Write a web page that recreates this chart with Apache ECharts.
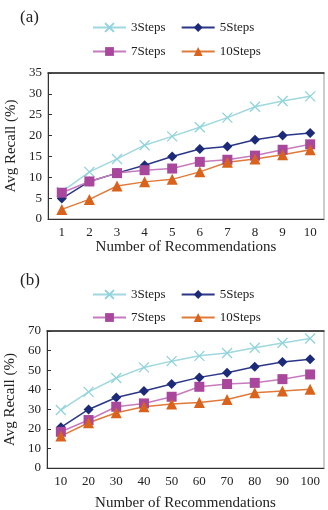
<!DOCTYPE html>
<html>
<head>
<meta charset="utf-8">
<script src="https://cdn.jsdelivr.net/npm/echarts@6/dist/echarts.min.js"></script>
<style>
  html, body { margin: 0; padding: 0; background: #fff; }
  #chart { width: 328px; height: 510px; }
</style>
</head>
<body>
<div id="chart"></div>
<script>
// data
var stepsA = ['1', '2', '3', '4', '5', '6', '7', '8', '9', '10'];
var stepsB = ['10', '20', '30', '40', '50', '60', '70', '80', '90', '100'];

var a3 = [6.5, 11.3, 14.4, 17.7, 19.8, 22.0, 24.3, 26.9, 28.3, 29.4];
var a5 = [4.9, 9.0, 11.0, 12.9, 15.0, 16.8, 17.4, 19.0, 20.0, 20.6];
var a7 = [6.3, 9.0, 11.0, 11.7, 12.1, 13.7, 14.2, 15.2, 16.6, 17.9];
var a10 = [2.3, 4.7, 7.9, 8.9, 9.5, 11.3, 13.6, 14.4, 15.4, 16.6];

var b3 = [29.6, 38.9, 46.0, 51.4, 54.6, 57.3, 58.8, 61.4, 63.9, 66.2];
var b5 = [20.8, 29.9, 36.0, 39.3, 42.9, 46.3, 48.7, 51.7, 54.2, 55.6];
var b7 = [18.5, 24.5, 31.3, 33.0, 36.4, 41.5, 42.9, 43.5, 45.4, 47.8];
var b10 = [16.3, 23.1, 28.2, 31.3, 32.7, 33.5, 35.0, 38.4, 39.4, 40.3];

var FONT = 'Liberation Serif';
var TXT = '#222';
var CROSS = 'path://M0,0L10,10M10,0L0,10';

var styles = {
  '3Steps': { symbol: CROSS, size: 10, color: '#8fd3dc', line: '#9fd8df' },
  '5Steps': { symbol: 'diamond', size: 10, color: '#1c2a78', line: '#2a3788' },
  '7Steps': { symbol: 'rect', size: 10, color: '#a8479b', line: '#c67bbf' },
  '10Steps': { symbol: 'triangle', size: 11, color: '#d9621c', line: '#e07a3a' }
};

function mkSeries(name, data, idx) {
  var s = styles[name];
  var isCross = name === '3Steps';
  return {
    name: name,
    type: 'line',
    xAxisIndex: idx,
    yAxisIndex: idx,
    data: data,
    symbol: s.symbol,
    symbolSize: s.size,
    showAllSymbol: true,
    animation: false,
    lineStyle: { color: s.line, width: 1.5 },
    itemStyle: isCross
      ? { color: 'rgba(0,0,0,0)', borderColor: s.color, borderWidth: 1.3 }
      : { color: s.color, borderWidth: 0 }
  };
}

function mkLegend(names, top) {
  return {
    data: names,
    left: 87,
    top: top,
    itemWidth: 33,
    itemHeight: 11,
    itemGap: 15,
    textStyle: { fontFamily: FONT, fontSize: 13, color: TXT }
  };
}

function mkX(cats, idx, gap) {
  return {
    type: 'category',
    gridIndex: idx,
    data: cats,
    boundaryGap: true,
    name: 'Number of Recommendations',
    nameLocation: 'middle',
    nameGap: gap,
    nameTextStyle: { fontFamily: FONT, fontSize: 15, color: TXT },
    axisLine: { lineStyle: { color: '#333', width: 1 } },
    axisTick: { inside: true, length: 4, lineStyle: { color: '#333' } },
    axisLabel: { fontFamily: FONT, fontSize: 13, color: TXT, margin: 7 },
    splitLine: { show: false }
  };
}

function mkTopX(idx) {
  return {
    type: 'category',
    gridIndex: idx,
    position: 'top',
    data: stepsA,
    axisLine: { lineStyle: { color: '#222', width: 1.5 } },
    axisTick: { show: false },
    axisLabel: { show: false }
  };
}

function mkY(max, interval, idx) {
  return {
    type: 'value',
    gridIndex: idx,
    min: 0,
    max: max,
    interval: interval,
    name: 'Avg Recall (%)',
    nameLocation: 'middle',
    nameGap: 27,
    nameTextStyle: { fontFamily: FONT, fontSize: 15, color: TXT },
    axisLine: { show: true, lineStyle: { color: '#333', width: 1 } },
    axisTick: { show: true, inside: true, length: 4, lineStyle: { color: '#333' } },
    axisLabel: { fontFamily: FONT, fontSize: 13, color: TXT, margin: 6 },
    splitLine: { show: false }
  };
}

var chart = echarts.init(document.getElementById('chart'), null, { renderer: 'canvas' });

var option = {
  backgroundColor: '#fff',
  animation: false,
  title: [
    { text: '(a)', left: 15, top: 4, textStyle: { fontFamily: FONT, fontSize: 17, fontWeight: 'normal', color: TXT } },
    { text: '(b)', left: 15, top: 267, textStyle: { fontFamily: FONT, fontSize: 17, fontWeight: 'normal', color: TXT } }
  ],
  legend: [
    mkLegend(['3Steps', '5Steps'], 16),
    mkLegend(['7Steps', '10Steps'], 40),
    mkLegend(['3Steps', '5Steps'], 283),
    mkLegend(['7Steps', '10Steps'], 306)
  ],
  grid: [
    { left: 48, top: 73, right: 4, height: 146, show: true, borderColor: '#999', borderWidth: 1, outerBoundsMode: 'none', containLabel: false },
    { left: 47, top: 331, right: 4, height: 137, show: true, borderColor: '#999', borderWidth: 1, outerBoundsMode: 'none', containLabel: false }
  ],
  xAxis: [mkX(stepsA, 0, 21), mkX(stepsB, 1, 28), mkTopX(0), mkTopX(1)],
  yAxis: [mkY(35, 5, 0), mkY(70, 10, 1)],
  series: [
    mkSeries('3Steps', a3, 0),
    mkSeries('5Steps', a5, 0),
    mkSeries('7Steps', a7, 0),
    mkSeries('10Steps', a10, 0),
    mkSeries('3Steps', b3, 1),
    mkSeries('5Steps', b5, 1),
    mkSeries('7Steps', b7, 1),
    mkSeries('10Steps', b10, 1)
  ]
};

chart.setOption(option);
</script>
</body>
</html>
